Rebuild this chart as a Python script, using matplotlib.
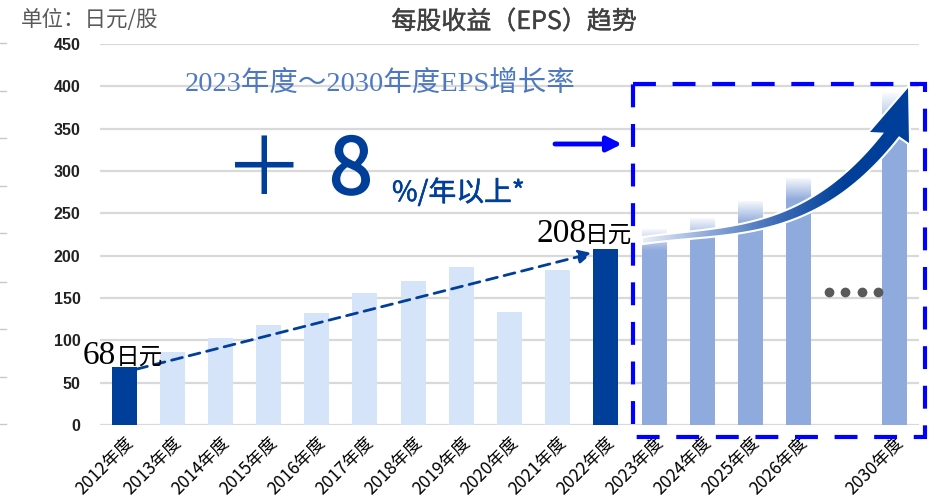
import numpy as np
import matplotlib
matplotlib.use('Agg')
import matplotlib.pyplot as plt
import matplotlib.patheffects as pe
from matplotlib.colors import LinearSegmentedColormap
from matplotlib.patches import Polygon, Rectangle

# Data
hist_years = ['2012年度', '2013年度', '2014年度', '2015年度', '2016年度', '2017年度',
              '2018年度', '2019年度', '2020年度', '2021年度', '2022年度']
hist_eps = [68, 86, 103, 118, 132, 156, 170, 187, 133, 183, 208]
plan_years = ['2023年度', '2024年度', '2025年度', '2026年度', '2030年度']
plan_eps = [232, 245, 265, 292, 392]
highlight = ['2012年度', '2022年度']

categories = hist_years + plan_years[:4] + [''] + plan_years[4:]
yticks = [0, 50, 100, 150, 200, 250, 300, 350, 400, 450]

DARK = '#003f99'
LIGHT = '#d6e4f9'
PLAN = '#8faadc'
CJK = 'Noto Sans CJK SC'
SERIF = 'Liberation Serif'

W, H = 944, 500
fig = plt.figure(figsize=(W / 100, H / 100), dpi=100)
fig.patch.set_facecolor('white')

# main axes: x from 100 to 919 px, y from 425 (0) to 44 (450)
ax = fig.add_axes([100 / W, (H - 425) / H, 819 / W, 381 / H])
bw = 0.52
xh = [categories.index(c) for c in hist_years]
xp = [categories.index(c) for c in plan_years]
ax.bar(xh, hist_eps, width=bw, zorder=2,
       color=[DARK if y in highlight else LIGHT for y in hist_years])
ax.bar(xp, plan_eps, width=bw, color=PLAN, zorder=2)

# white fade on the top of the plan bars
for x, v, d in zip(xp, plan_eps, [26, 26, 26, 26, 45]):
    g = np.ones((64, 1, 4))
    g[:, 0, 3] = np.linspace(0, 0.97, 64)
    ax.imshow(g, extent=[x - bw / 2, x + bw / 2, v - d, v], origin='lower',
              aspect='auto', zorder=3, interpolation='bilinear')

# dashed trend arrow 2012 -> 2022
ax.annotate('', xy=(xh[-1] - bw / 2 - 0.02, hist_eps[-1] - 5),
            xytext=(xh[0] + bw / 2, hist_eps[0] - 2),
            arrowprops=dict(arrowstyle='-|>', color=DARK, lw=2, linestyle=(0, (4, 2.5)),
                            mutation_scale=20, shrinkA=0, shrinkB=0), zorder=4)

ax.set_xlim(-0.5, len(categories) - 0.5)
ax.set_ylim(0, 450)
ax.set_yticks(yticks)
ax.set_xticks(range(len(categories)))
ax.set_xticklabels(categories, rotation=45, ha='right', rotation_mode='anchor',
                   fontfamily=CJK, fontsize=12.5, fontweight='medium')
for lab in ax.get_yticklabels():
    lab.set_fontfamily('Liberation Sans')
    lab.set_fontweight('bold')
    lab.set_fontsize(11.5)
    lab.set_color('#222222')
ax.tick_params(axis='y', length=0, pad=14)
ax.tick_params(axis='x', length=0, pad=6)
ax.yaxis.grid(True, color='#d9d9d9', lw=1.6)
ax.set_axisbelow(True)
for s in ax.spines.values():
    s.set_visible(False)

# overlay in pixel coordinates for the decorations
ov = fig.add_axes([0, 0, 1, 1], zorder=5)
ov.set_xlim(0, W)
ov.set_ylim(H, 0)
ov.axis('off')
ov.patch.set_alpha(0)

# small ticks at the left edge
for y in [43, 91, 138, 186, 233, 282, 329, 377, 424]:
    ov.plot([0, 6], [y, y], color='#c8c8c8', lw=1)

ov.text(21, 20, '单位：日元/股', fontfamily=CJK, fontsize=15.5, color='#595959',
        ha='left', va='center')
ov.text(514, 22, '每股收益（EPS）趋势', fontfamily=CJK, fontsize=18,
        color='#404040', ha='center', va='center',
        path_effects=[pe.withStroke(linewidth=0.3, foreground='#404040')])
ov.text(380, 84, '2023年度～2030年度EPS增长率', fontfamily=[SERIF, CJK],
        fontsize=20.5, color='#4e79c0', ha='center', va='center')
ov.text(264, 172, '＋', fontfamily=CJK, fontsize=58, fontweight='light', color=DARK,
        ha='center', va='center')
ov.text(351, 172, '8', fontfamily=CJK, fontsize=56, color=DARK,
        ha='center', va='center',
        path_effects=[pe.withStroke(linewidth=1.5, foreground=DARK)])
ov.text(392, 193, '%/年以上*', fontfamily=CJK, fontsize=20, color=DARK,
        ha='left', va='center',
        path_effects=[pe.withStroke(linewidth=0.4, foreground=DARK)])
ov.text(83, 356, '68', fontfamily=SERIF, fontsize=24, color='black',
        ha='left', va='center')
ov.text(116, 357, '日元', fontfamily=CJK, fontsize=17, color='black',
        ha='left', va='center')
ov.text(536, 234, '208', fontfamily=SERIF, fontsize=24, color='black',
        ha='left', va='center')
ov.text(585, 235, '日元', fontfamily=CJK, fontsize=17, color='black',
        ha='left', va='center')

# dashed box around the plan
ov.add_patch(Rectangle((633, 84), 292, 353, fill=False, ec='#0000ff', lw=3,
                       linestyle=(0, (5.5, 4))))
# small pointer arrow
ov.annotate('', xy=(622, 144), xytext=(555, 144),
            arrowprops=dict(arrowstyle='-|>', color='#0000ff', lw=3.5,
                            mutation_scale=22, shrinkA=0, shrinkB=0))
# dots
ov.scatter([829, 845, 862, 878], [292, 292, 292, 292], s=36, color='#595959')

# big curved growth arrow
top_x = [643, 700, 750, 800, 825, 886]
top_y = [238, 232, 222, 205, 190, 130]
bot_x = [643, 700, 750, 800, 825, 847, 900]
bot_y = [243, 237, 230, 217, 203, 188, 135]
pt = np.polyfit(top_x, top_y, 3)
pb = np.polyfit(bot_x, bot_y, 3)
tx = np.linspace(643, 884, 60)
bx = np.linspace(899, 643, 60)
pts = list(zip(tx, np.polyval(pt, tx)))
pts += [(870, 132), (908, 88), (909, 143), (899, np.polyval(pb, 899))]
pts += list(zip(bx, np.polyval(pb, bx)))
glow = Polygon(pts, closed=True, fc='none', ec='white', lw=3, zorder=1)
ov.add_patch(glow)
shape = Polygon(pts, closed=True, fc='none', ec='none', zorder=2)
ov.add_patch(shape)
cmap = LinearSegmentedColormap.from_list('arr', ['#eef2fa', '#8eaad8', '#3f6db8', '#003f99', '#003f99'])
im = ov.imshow(np.linspace(0, 1, 256)[None, :], cmap=cmap, extent=[640, 912, 250, 84],
               aspect='auto', zorder=2)
im.set_clip_path(shape)
ov.set_xlim(0, W)
ov.set_ylim(H, 0)

fig.savefig('out.png', dpi=100)
